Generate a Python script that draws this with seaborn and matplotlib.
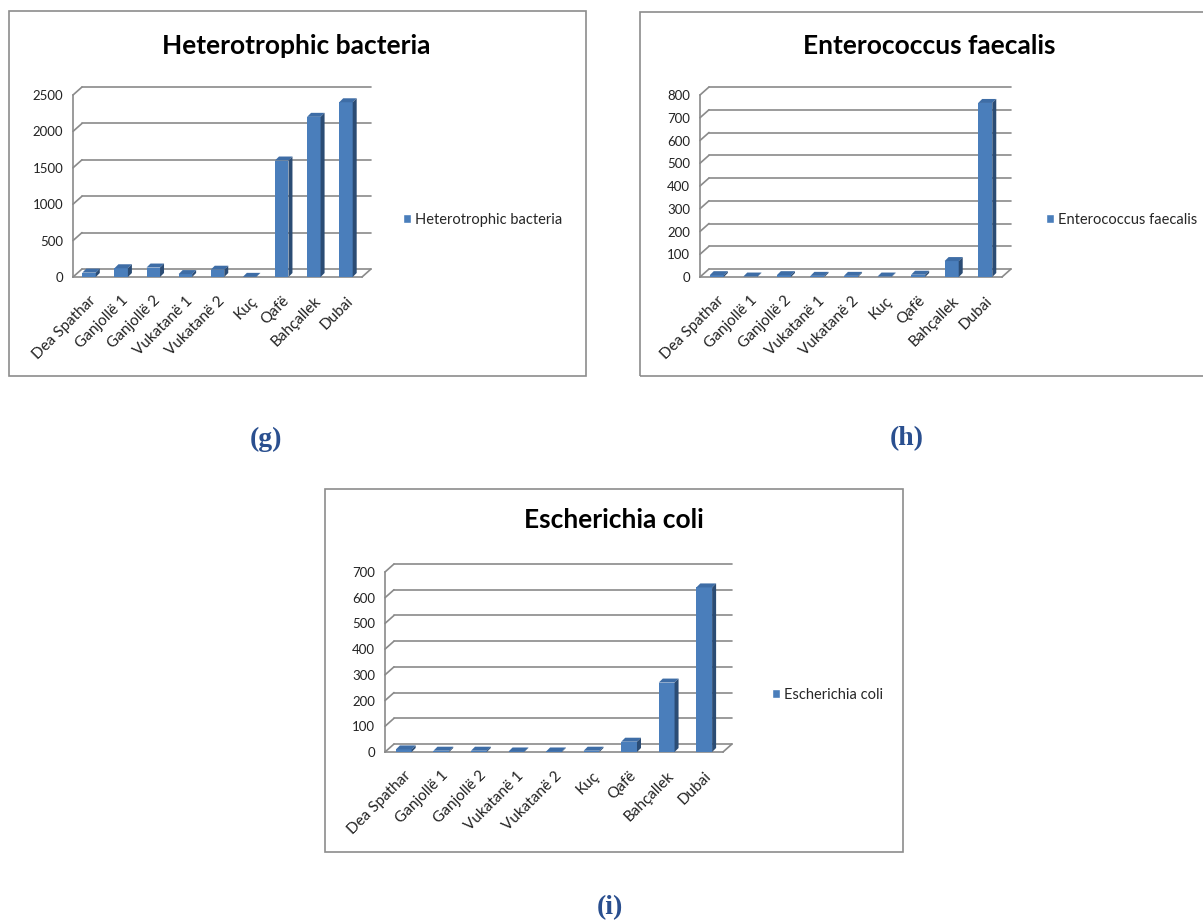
import matplotlib
matplotlib.use("Agg")
import matplotlib.pyplot as plt
import seaborn as sns
import pandas as pd
from matplotlib.patches import Rectangle, Polygon, Patch

sites = ["Dea Spathar", "Ganjollë 1", "Ganjollë 2", "Vukatanë 1", "Vukatanë 2",
         "Kuç", "Qafë", "Bahçallek", "Dubai"]
heterotrophic = [60, 120, 130, 40, 100, 2, 1600, 2200, 2400]
enterococcus = [8, 2, 8, 5, 5, 2, 10, 70, 765]
ecoli = [10, 5, 5, 2, 2, 5, 40, 270, 640]

titles = ["Heterotrophic bacteria", "Enterococcus faecalis", "Escherichia coli"]
panel_labels = ["(g)", "(h)", "(i)"]
yticks_list = [[0, 500, 1000, 1500, 2000, 2500],
               [0, 100, 200, 300, 400, 500, 600, 700, 800],
               [0, 100, 200, 300, 400, 500, 600, 700]]

W, H = 1203, 923
sns.set_style("white")
plt.rcParams['font.family'] = ['Lato', 'DejaVu Sans']

fig = plt.figure(figsize=(W / 100, H / 100), dpi=100)

FRONT = "#4A7EBB"
TOP = "#3E6DA6"
SIDE = "#2B4C74"
GRID = "#8A8A8A"

layouts = [
    dict(box=(9, 11, 586, 376), ax=(73, 362, 95, 277), title=(296, 46),
         legend=(403, 220), plabel=(266, 439)),
    dict(box=(640, 12, 1215, 376), ax=(700, 1002, 95, 277), title=(929, 46),
         legend=(1046, 220), plabel=(907, 439)),
    dict(box=(325, 489, 903, 852), ax=(385, 723, 572, 752), title=(614, 520),
         legend=(772, 695), plabel=(610, 908)),
]
datasets = [heterotrophic, enterococcus, ecoli]

DX, DY = 9.0, 8.0      # wall depth in px
BDX, BDY = 4.0, 4.0    # bar depth in px

for data, title, plab, yt, lay in zip(datasets, titles, panel_labels, yticks_list, layouts):
    bx0, by0, bx1, by1 = lay["box"]
    fig.add_artist(Rectangle((bx0 / W, 1 - by1 / H), (bx1 - bx0) / W, (by1 - by0) / H,
                             transform=fig.transFigure, fill=False,
                             edgecolor="#8C8C8C", linewidth=1.2))
    l, r, t, b = lay["ax"]
    ax = fig.add_axes([l / W, 1 - b / H, (r - l) / W, (b - t) / H])
    df = pd.DataFrame({"site": sites, "value": data})
    sns.barplot(data=df, x="site", y="value", color=FRONT, saturation=1,
                width=0.42, ax=ax, zorder=3)
    ymax = yt[-1]
    ax.set_xlim(-0.5, len(sites) - 0.5)
    ax.set_ylim(0, ymax)
    pxx = (r - l) / len(sites)
    pxy = (b - t) / ymax
    ddx, ddy = DX / pxx, DY / pxy
    bdx, bdy = BDX / pxx, BDY / pxy
    x0, x1 = -0.5, len(sites) - 0.5
    for v in yt:
        ax.plot([x0, x0 + ddx], [v, v + ddy], color=GRID, lw=1.2, clip_on=False, zorder=1)
        ax.plot([x0 + ddx, x1 + ddx], [v + ddy, v + ddy], color=GRID, lw=1.2,
                clip_on=False, zorder=1)
    ax.plot([x1, x1 + ddx], [0, ddy], color=GRID, lw=1.2, clip_on=False, zorder=1)
    for p in ax.patches:
        px, pw, ph = p.get_x(), p.get_width(), p.get_height()
        p.set_edgecolor("none")
        ax.add_patch(Polygon([(px, ph), (px + pw, ph), (px + pw + bdx, ph + bdy),
                              (px + bdx, ph + bdy)], closed=True, facecolor=TOP,
                             edgecolor="none", clip_on=False, zorder=3))
        ax.add_patch(Polygon([(px + pw, 0), (px + pw + bdx, bdy), (px + pw + bdx, ph + bdy),
                              (px + pw, ph)], closed=True, facecolor=SIDE,
                             edgecolor="none", clip_on=False, zorder=3))
    for s in ["top", "right"]:
        ax.spines[s].set_visible(False)
    for s in ["left", "bottom"]:
        ax.spines[s].set_color(GRID)
        ax.spines[s].set_linewidth(1.2)
    ax.set_yticks(yt)
    ax.set_yticklabels([str(v) for v in yt], fontsize=9.5, color="#222222")
    ax.set_xticks(range(len(sites)))
    ax.set_xticklabels(sites, rotation=45, ha="right", rotation_mode="anchor",
                       fontsize=11, color="#222222")
    ax.set_xticks([i - 0.5 for i in range(len(sites) + 1)], minor=True)
    ax.tick_params(axis="x", which="major", length=0, pad=12)
    ax.tick_params(axis="x", which="minor", length=5, color=GRID, width=1.2)
    ax.tick_params(axis="y", length=4, color=GRID, width=1.2, pad=3)
    ax.set_xlabel("")
    ax.set_ylabel("")
    ax.grid(False)
    ax.patch.set_alpha(0)

    fig.text(lay["title"][0] / W, 1 - lay["title"][1] / H, title, ha="center",
             va="center", fontsize=19, fontweight="bold", color="black")
    ax.legend(handles=[Patch(facecolor=FRONT)], labels=[title], frameon=False,
              loc="center left", bbox_to_anchor=(lay["legend"][0] / W, 1 - lay["legend"][1] / H),
              bbox_transform=fig.transFigure, fontsize=10.5, handlelength=0.55,
              handleheight=0.55, handletextpad=0.3, borderpad=0, borderaxespad=0)
    fig.text(lay["plabel"][0] / W, 1 - lay["plabel"][1] / H, plab, ha="center",
             va="center", fontsize=20, fontweight="bold", color="#2A4F8F",
             family=["Liberation Serif", "DejaVu Serif"])

fig.savefig("out.png", dpi=100)
